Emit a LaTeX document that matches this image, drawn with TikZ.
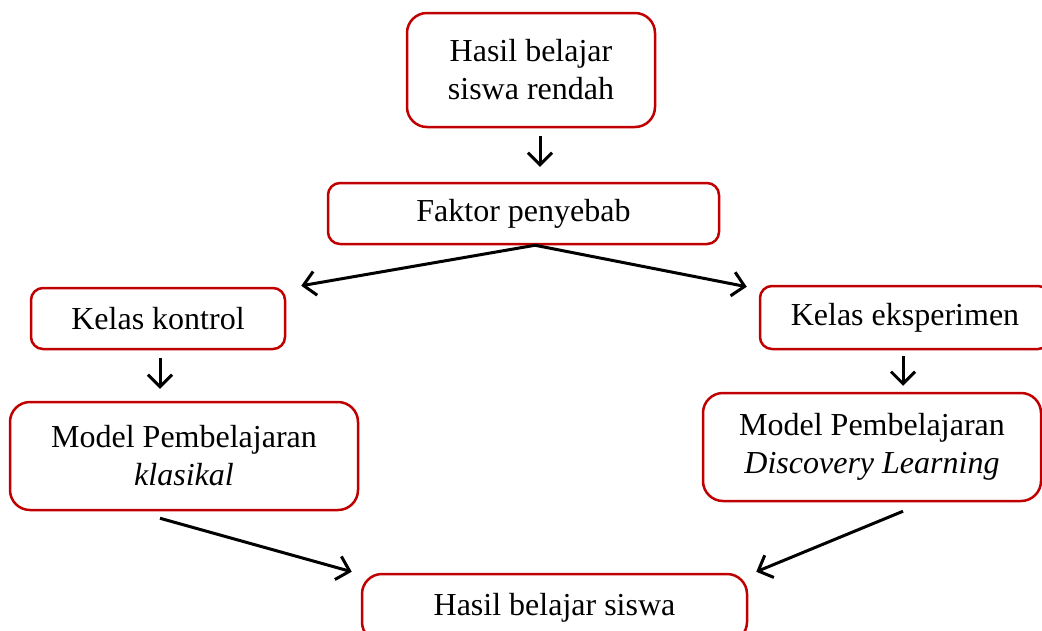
\documentclass[tikz,border=0pt]{standalone}
\usepackage{fontspec}
\setmainfont{Liberation Serif}
\usetikzlibrary{arrows.meta}
\definecolor{boxred}{RGB}{192,0,0}
\tikzset{
  box/.style={draw=boxred, line width=2.5pt, rounded corners=#1, align=center, inner sep=0pt,
    font=\fontsize{32}{38}\selectfont},
  box/.default=12pt,
  arr/.style={draw=black, line width=3pt, -{Straight Barb[length=12pt,width=24pt]}}
}
\begin{document}
\begin{tikzpicture}[x=1pt,y=-1pt]
\useasboundingbox (0,0) rectangle (1042,630);
\clip (0,0) rectangle (1042,630);
\node[box=20pt, minimum width=248pt, minimum height=114pt] (top) at (531,70) {Hasil belajar\\siswa rendah};
\node[box, minimum width=391pt, minimum height=61pt] (faktor) at (523.5,213.5) {Faktor penyebab};
\node[box, minimum width=254pt, minimum height=61pt] (kontrol) at (158,318.5) {Kelas kontrol};
\node[box, minimum width=290pt, minimum height=63pt] (eksp) at (905,317.5) {Kelas eksperimen};
\node[box=20pt, minimum width=348pt, minimum height=108pt] (klas) at (184,456) {Model Pembelajaran\\\textit{klasikal}};
\node[box=20pt, minimum width=338pt, minimum height=108pt] (disc) at (872,447) {Model Pembelajaran\\\textit{Discovery Learning}};
\node[box=20pt, minimum width=385pt, minimum height=68pt] (bottom) at (554.5,608) {Hasil belajar siswa};
% connectors
\draw[arr, shorten <=8pt, shorten >=15pt] ([xshift=9pt]top.south) -- ([xshift=9pt]top.south |- faktor.north);
\draw[arr] ([xshift=11.5pt]faktor.south) -- ([xshift=15pt,yshift=1pt]kontrol.north east);
\draw[arr] ([xshift=11.5pt]faktor.south) -- ([xshift=-12pt,yshift=-2pt]eksp.north west);
\draw[arr, shorten <=8pt, shorten >=12pt] ([xshift=2pt]kontrol.south) -- ([xshift=2pt]kontrol.south |- klas.north);
\draw[arr, shorten <=6pt, shorten >=6pt] ([xshift=-2pt]eksp.south) -- ([xshift=-2pt]eksp.south |- disc.north);
\draw[arr] ([xshift=-24pt,yshift=-7pt]klas.south) -- ([xshift=-9pt,yshift=1pt]bottom.north west);
\draw[arr] ([xshift=31pt,yshift=-9pt]disc.south) -- ([xshift=8pt,yshift=1pt]bottom.north east);
\end{tikzpicture}
\end{document}
